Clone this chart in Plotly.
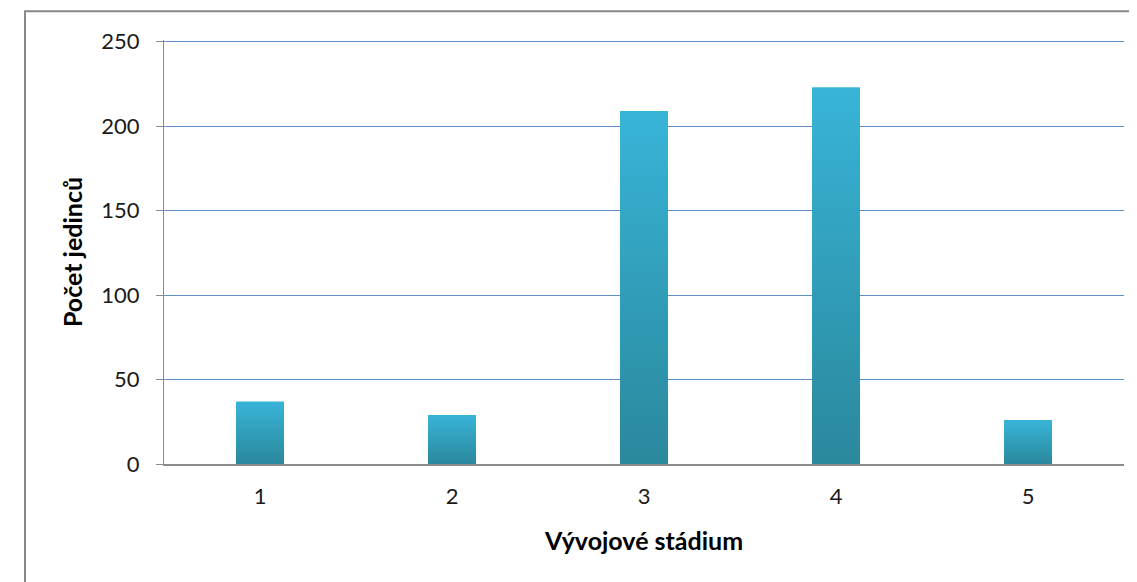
import plotly.graph_objects as go

categories = ["1", "2", "3", "4", "5"]
values = [37, 29, 209, 223, 26]
y_ticks = [0, 50, 100, 150, 200, 250]

BAR_W = 0.25
fig = go.Figure()
for i, (cat, v) in enumerate(zip(categories, values)):
    xc = i + 1
    fig.add_trace(go.Scatter(
        x=[xc - BAR_W / 2, xc - BAR_W / 2, xc + BAR_W / 2, xc + BAR_W / 2, xc - BAR_W / 2],
        y=[0, v, v, 0, 0],
        mode="lines",
        line=dict(width=0, color="rgba(0,0,0,0)"),
        fill="toself",
        fillgradient=dict(type="vertical",
                          colorscale=[[0, "#2A889C"], [1, "#38B4D8"]]),
        hoverinfo="skip",
        showlegend=False,
    ))

fig.update_layout(
    width=1137, height=582,
    margin=dict(l=156, r=21, t=31.8, b=126),
    paper_bgcolor="white", plot_bgcolor="white",
    font=dict(family="Lato, Noto Sans, sans-serif", color="#262626"),
    showlegend=False,
)
fig.update_xaxes(
    range=[0.5, 5.5], automargin=False,
    tickmode="array", tickvals=[1, 2, 3, 4, 5], ticktext=categories,
    showgrid=False, zeroline=False,
    showline=True, linecolor="#8C8C8C", linewidth=2,
    ticks="", tickfont=dict(size=22, color="#1a1a1a"), ticklabelstandoff=12,
    title=dict(text="<b>Vývojové stádium</b>", font=dict(size=25, color="#000000"), standoff=24),
)
fig.update_yaxes(
    range=[0, 251], automargin=False,
    tickmode="array", tickvals=y_ticks,
    showgrid=True, gridcolor="#5F8FC9", gridwidth=1,
    zeroline=False,
    showline=True, linecolor="#8C8C8C", linewidth=1,
    ticks="outside", ticklen=7, tickcolor="#8C8C8C",
    tickfont=dict(size=22, color="#1a1a1a"), ticklabelstandoff=12,
    title=dict(text="<b>Počet jedinců</b>", font=dict(size=25, color="#000000"), standoff=11),
)
# outer chart border (Excel-style chart area frame)
fig.add_shape(type="rect", xref="paper", yref="paper",
              x0=-0.1448, x1=1.2, y0=-0.5, y1=1.0679,
              line=dict(color="#888888", width=2), fillcolor="rgba(0,0,0,0)", layer="above")

fig.write_html("out.html")
